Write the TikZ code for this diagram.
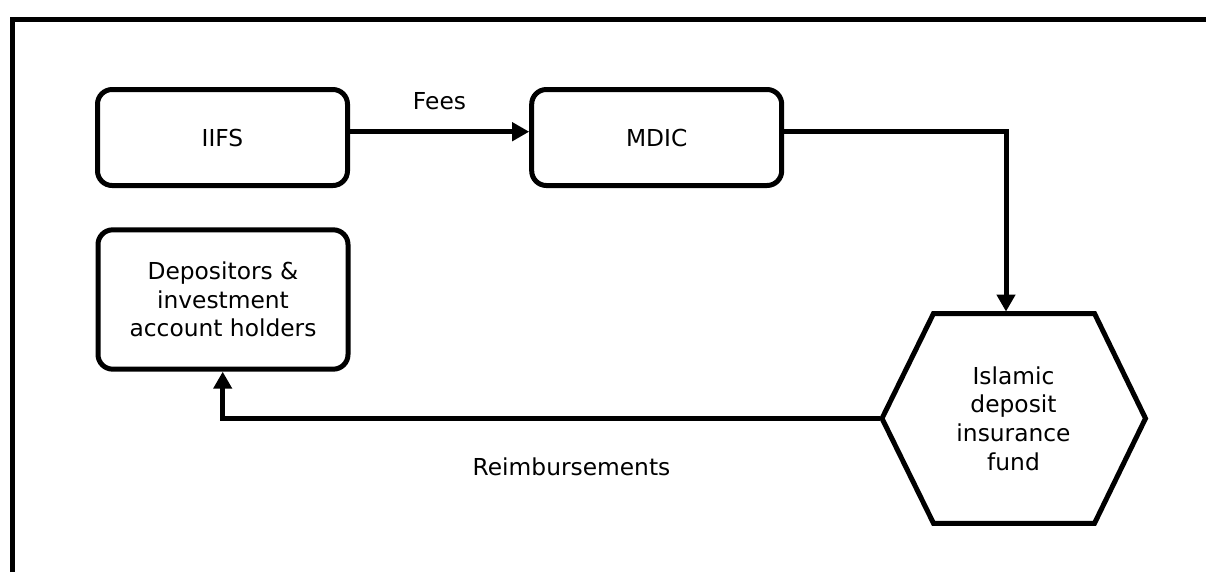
\documentclass[tikz,border=0pt]{standalone}
\usepackage{fontspec}
\setmainfont{DejaVu Sans}
\usetikzlibrary{arrows.meta}
\tikzset{
  lw/.style={line width=3.75pt},
  rbox/.style={lw, draw, rounded corners=11pt, minimum width=187.5pt, minimum height=72pt, inner sep=0pt, align=center, font=\fontsize{17.5}{21.5}\selectfont},
  lbl/.style={font=\fontsize{17.5}{21.5}\selectfont, inner sep=0pt},
  conn/.style={lw, -{Triangle[length=12.75pt, width=13.5pt]}},
}
\begin{document}
\begin{tikzpicture}[x=0.75pt,y=-0.75pt]
\useasboundingbox (0,0) rectangle (1206,572);
% outer frame
\draw[lw] (12.5,572) -- (12.5,19.8) -- (1206,19.8);
% nodes
\node[rbox] (iifs) at (222.5,137.5) {IIFS};
\node[rbox] (mdic) at (656.7,137.5) {MDIC};
\node[rbox, minimum height=104.5pt] (dep) at (223,299.5) {Depositors \&\\investment\\account holders};
% hexagon
\coordinate (hl) at (882,418.4);
\coordinate (htl) at (933.5,313.5);
\coordinate (htr) at (1094.5,313.5);
\coordinate (hr) at (1145.5,418.4);
\coordinate (hbr) at (1094.5,523.3);
\coordinate (hbl) at (933.5,523.3);
\draw[lw] (hl) -- (htl) -- (htr) -- (hr) -- (hbr) -- (hbl) -- cycle;
\node[lbl, align=center] (fund) at (1013.5,418.4) {Islamic\\deposit\\insurance\\fund};
\coordinate (htop) at (1006,311.6);
\coordinate (hleft) at (880,418.4);
% connectors
\draw[conn] (iifs.east |- 0,131.7) -- (mdic.west |- 0,131.7);
\draw[conn] (mdic.east |- 0,131.7) -| (htop);
\draw[conn] (hleft) -| (dep.south -| 222.7,0);
% labels
\node[lbl] (fees) at (439.5,101.5) {Fees};
\node[lbl] (reimb) at (571.5,467) {Reimbursements};
\end{tikzpicture}
\end{document}
